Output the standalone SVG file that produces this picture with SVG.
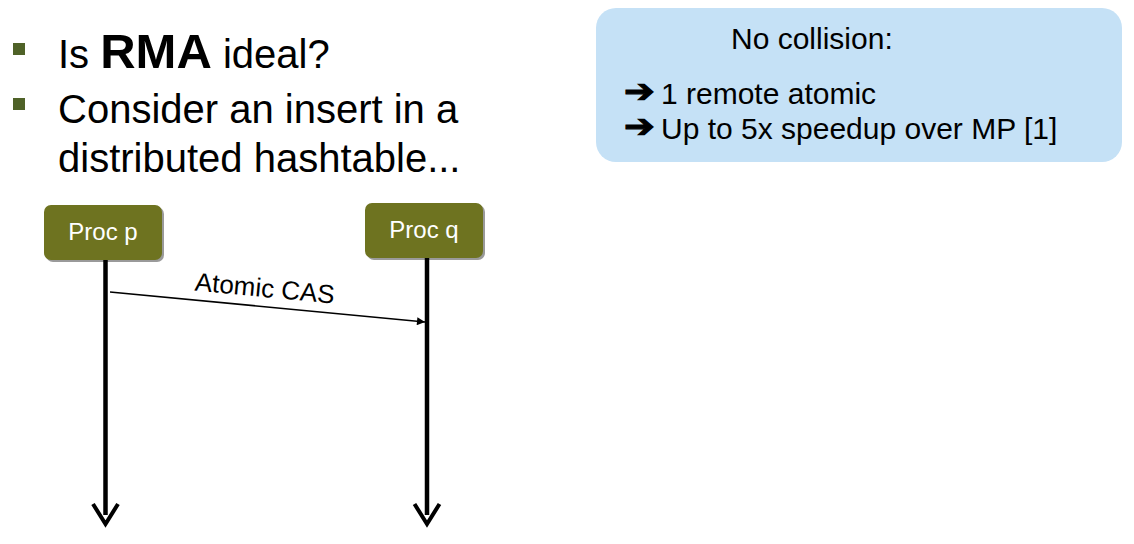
<svg xmlns="http://www.w3.org/2000/svg" width="1134" height="544" viewBox="0 0 1134 544">
<defs>
<style>
.t{font-family:"Liberation Sans",Arial,sans-serif;fill:#000}
.big{font-size:40px}
.box{font-size:30px}
.proc{fill:#6e7320}
.shadow{fill:#9a9a9a}
.plabel{font-family:"Liberation Sans",Arial,sans-serif;font-size:24px;fill:#fff}
.life{stroke:#000;stroke-width:4.5;fill:none}
.vhead{stroke:#000;stroke-width:4;fill:none}
.bullet{fill:#4f6228}
.sym{font-family:"DejaVu Sans",sans-serif;font-size:32px;font-weight:bold;fill:#000;stroke:#000;stroke-width:1.2}
</style>
<marker id="ah" viewBox="0 0 10 10" refX="10" refY="5" markerWidth="10" markerHeight="8" markerUnits="userSpaceOnUse" orient="auto">
<path d="M0,0 L10,5 L0,10 z" fill="#000"/>
</marker>
</defs>
<rect width="1134" height="544" fill="#fff"/>

<g id="bullets">
<rect class="bullet" x="13" y="43" width="12" height="12"/>
<rect class="bullet" x="13" y="98" width="12" height="12"/>
<text class="t big" x="58" y="68">Is <tspan font-weight="bold" font-size="49">RMA</tspan> ideal?</text>
<text class="t big" x="58" y="123">Consider an insert in a</text>
<text class="t big" x="58" y="172">distributed hashtable...</text>
</g>

<g id="note">
<rect x="596" y="8" width="526" height="154" rx="20" ry="20" fill="#c5e1f6"/>
<text class="t box" x="731" y="49">No collision:</text>
<text class="sym" transform="translate(624,102) scale(1.15,1)">➔</text>
<text class="t box" x="661" y="104">1 remote atomic</text>
<text class="sym" transform="translate(624,137) scale(1.15,1)">➔</text>
<text class="t box" x="661" y="139">Up to 5x speedup over MP [1]</text>
</g>

<g id="proc-p">
<rect class="shadow" x="46" y="207" width="118" height="55" rx="7"/>
<rect class="proc" x="44" y="205" width="118" height="55" rx="7"/>
<text class="plabel" x="103" y="240" text-anchor="middle">Proc p</text>
</g>

<g id="proc-q">
<rect class="shadow" x="367" y="205" width="118" height="55" rx="7"/>
<rect class="proc" x="365" y="203" width="118" height="55" rx="7"/>
<text class="plabel" x="424" y="238" text-anchor="middle">Proc q</text>
</g>

<g id="connectors">
<line class="life" x1="105.5" y1="260" x2="105.5" y2="515"/>
<polyline class="vhead" points="93,504 105.5,524 118,504"/>
<line class="life" x1="427" y1="258" x2="427" y2="515"/>
<polyline class="vhead" points="414.5,504 427,524 439.5,504"/>
<line x1="110" y1="292" x2="425" y2="322" stroke="#000" stroke-width="1.6" marker-end="url(#ah)"/>
<text class="t" font-size="26" x="264" y="297" text-anchor="middle" transform="rotate(5.4 264 297)">Atomic CAS</text>
</g>
</svg>
